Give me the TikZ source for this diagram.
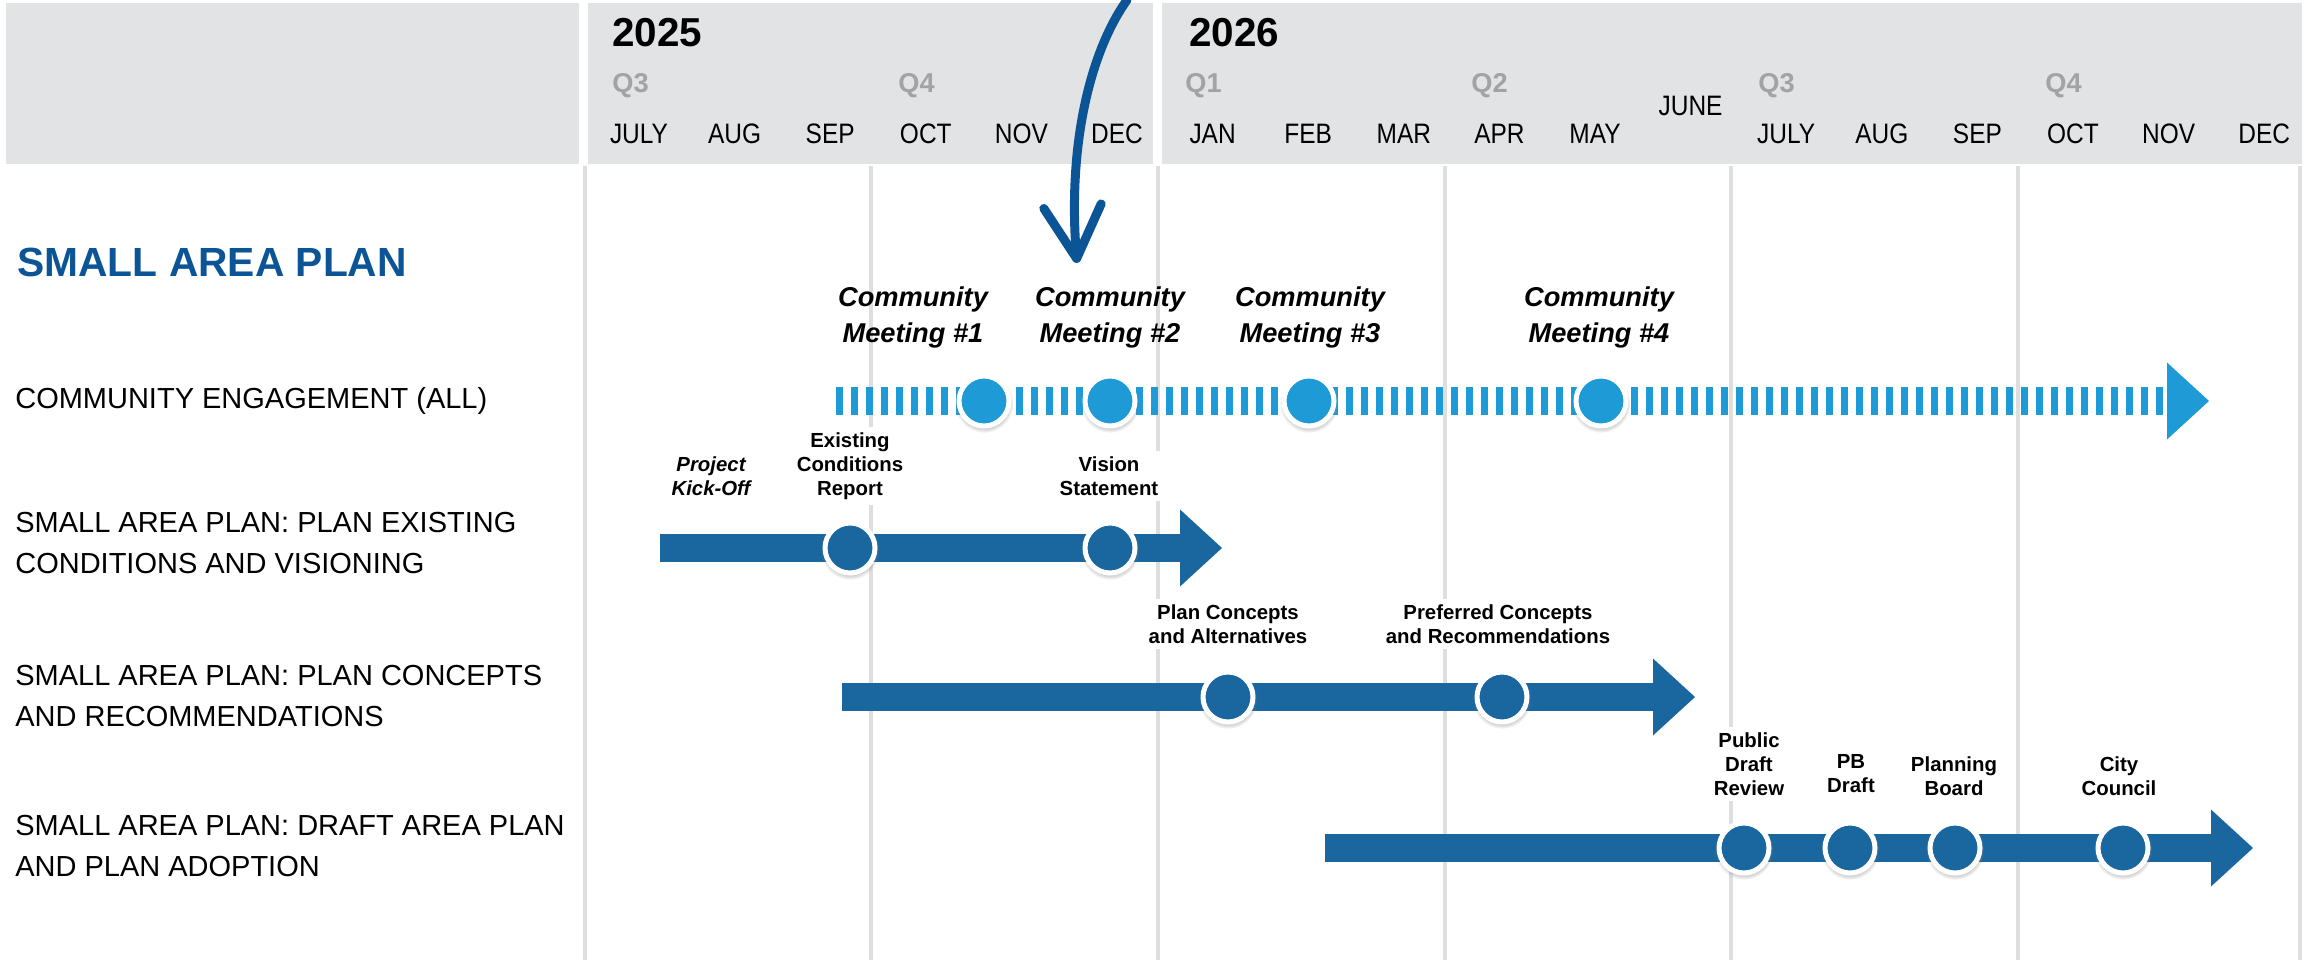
\documentclass[tikz,border=0pt]{standalone}
\usepackage{fontspec}
\setmainfont{Liberation Sans}
\newfontfamily\condfont[FakeStretch=0.87]{Liberation Sans}
\usetikzlibrary{arrows.meta,shadows,positioning}
\definecolor{hdrgray}{HTML}{E2E3E5}
\definecolor{gridgray}{HTML}{DEDEDF}
\definecolor{qgray}{HTML}{A3A3A3}
\definecolor{ltblue}{HTML}{1E9AD6}
\definecolor{dkblue}{HTML}{1A67A0}
\definecolor{navy}{HTML}{0B5597}

\begin{document}
\begin{tikzpicture}[x=0.02cm, y=-0.02cm,
    every node/.style={inner sep=0pt},
    month/.style={font=\condfont\fontsize{16}{18}\selectfont, anchor=base},
    quarter/.style={font=\bfseries\fontsize{15.5}{18}\selectfont, text=qgray, anchor=base west},
    year/.style={font=\bfseries\fontsize{23}{26}\selectfont, anchor=base west},
    rowlabel/.style={font=\fontsize{16.5}{22.8}\selectfont, align=left, anchor=west},
    meeting/.style={font=\bfseries\itshape\fontsize{15.5}{20.5}\selectfont, align=center},
    milestone/.style={font=\bfseries\fontsize{11.6}{13.6}\selectfont, align=center,
        fill=white, inner xsep=0.1cm, inner ysep=0.12cm},
    gridline/.style={gridgray, line width=0.08cm},
    plainbar/.style={dkblue, line width=0.56cm,
        -{Triangle[length=0.84cm, width=1.54cm, line width=0pt]}},
    stripebar/.style={ltblue, line width=0.56cm, dash pattern=on 0.14cm off 0.16cm,
        -{Triangle[length=0.84cm, width=1.54cm, line width=0pt]}},
    dot/.style={circle, minimum size=1cm, draw=white, line width=0.1cm,
        circular drop shadow={shadow scale=1.18, shadow xshift=0cm, shadow yshift=-0.04cm, opacity=0.35}},
    meetdot/.style={dot, fill=ltblue},
    stepdot/.style={dot, fill=dkblue},
    pointer/.style={navy, line width=0.18cm, line cap=round,
        -{Straight Barb[length=1.05cm, width=1.15cm, round]}}
  ]
  \useasboundingbox (0,0) rectangle (2310,960);

  % header band
  \fill[hdrgray] (6,3) rectangle (579,164);
  \fill[hdrgray] (588,3) rectangle (1153,164);
  \fill[hdrgray] (1162,3) rectangle (2302,164);

  % quarter grid
  \foreach \gx in {585,871,1158,1445,1731,2018,2300}
    \draw[gridline] (\gx,166) -- (\gx,960);

  % years and quarters
  \node[year] (y25) at (612,46) {2025};
  \node[year] (y26) at (1189,46) {2026};
  \foreach \q/\qx [count=\k] in {Q3/612,Q4/898,Q1/1185,Q2/1471,Q3/1758,Q4/2045}
    \node[quarter] (q\k) at (\qx,92) {\q};

  % months
  \foreach \m/\yb [count=\i from 0] in {JULY/143,AUG/143,SEP/143,OCT/143,NOV/143,DEC/143,
      JAN/143,FEB/143,MAR/143,APR/143,MAY/143,JUNE/115,JULY/143,AUG/143,SEP/143,OCT/143,NOV/143,DEC/143}
    \node[month] (m\i) at ({639+95.6*\i},\yb) {\m};

  % row titles
  \node[anchor=base west, font=\bfseries\fontsize{23.2}{26}\selectfont, text=navy] (title) at (17,276) {SMALL AREA PLAN};
  \node[rowlabel] (lab1) at (15,401) {COMMUNITY ENGAGEMENT (ALL)};
  \node[rowlabel] (lab2) at (15,543) {SMALL AREA PLAN: PLAN EXISTING\\CONDITIONS AND VISIONING};
  \node[rowlabel] (lab3) at (15,696) {SMALL AREA PLAN: PLAN CONCEPTS\\AND RECOMMENDATIONS};
  \node[rowlabel] (lab4) at (15,846) {SMALL AREA PLAN: DRAFT AREA PLAN\\AND PLAN ADOPTION};

  % milestone texts
  \node[meeting] (t1) at (913,317) {Community\\Meeting \#1};
  \node[meeting] (t2) at (1110,317) {Community\\Meeting \#2};
  \node[meeting] (t3) at (1310,317) {Community\\Meeting \#3};
  \node[meeting] (t4) at (1599,317) {Community\\Meeting \#4};
  \node[milestone, font=\bfseries\itshape\fontsize{11.6}{13.6}\selectfont] (tko) at (711,476) {Project\\Kick-Off};
  \node[milestone] (tec) at (850,466) {Existing\\Conditions\\Report};
  \node[milestone] (tvs) at (1109,476) {Vision\\Statement};
  \node[milestone] (tpc) at (1228,624) {Plan Concepts\\and Alternatives};
  \node[milestone] (tpr) at (1498,624) {Preferred Concepts\\and Recommendations};
  \node[milestone] (tpd) at (1749,764) {Public\\Draft\\Review};
  \node[milestone] (tpb) at (1851,774) {PB\\Draft};
  \node[milestone] (tpl) at (1954,776) {Planning\\Board};
  \node[milestone] (tcc) at (2119,776) {City\\Council};

  % bars
  \coordinate (r1s) at (836,401);  \coordinate (r1e) at (2209,401);
  \coordinate (r2s) at (660,548);  \coordinate (r2e) at (1222,548);
  \coordinate (r3s) at (842,697);  \coordinate (r3e) at (1695,697);
  \coordinate (r4s) at (1325,848); \coordinate (r4e) at (2253,848);
  \draw[stripebar] (r1s) -- (r1e);
  \draw[plainbar] (r2s) -- (r2e);
  \draw[plainbar] (r3s) -- (r3e);
  \draw[plainbar] (r4s) -- (r4e);

  % dots
  \node[meetdot] (cm1) at (984,401) {};
  \node[meetdot] (cm2) at (1110,401) {};
  \node[meetdot] (cm3) at (1309,401) {};
  \node[meetdot] (cm4) at (1601,401) {};
  \node[stepdot] (ec) at (850,548) {};
  \node[stepdot] (vs) at (1110,548) {};
  \node[stepdot] (pc) at (1228,697) {};
  \node[stepdot] (pr) at (1502,697) {};
  \node[stepdot] (pd) at (1744,848) {};
  \node[stepdot] (pb) at (1850,848) {};
  \node[stepdot] (pl) at (1955,848) {};
  \node[stepdot] (cc) at (2123,848) {};

  % pointer arrow
  \coordinate (cvtop) at (1127,0);
  \coordinate (cvtip) at (1077,263);
  \draw[pointer] (cvtop) .. controls (1088,55) and (1068,150) .. (cvtip);
\end{tikzpicture}
\end{document}
